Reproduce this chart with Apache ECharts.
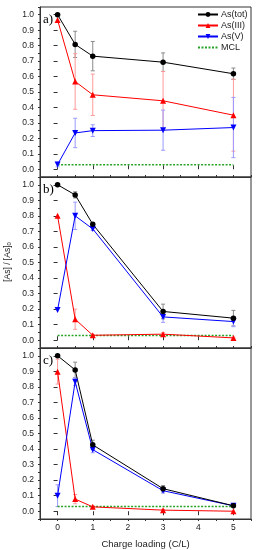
<!DOCTYPE html>
<html><head><meta charset="utf-8">
<script src="https://cdn.jsdelivr.net/npm/echarts@6/dist/echarts.min.js"></script>
<style>html,body{margin:0;padding:0;background:#fff}#c{width:258px;height:550px}</style>
</head><body><div id="c"></div>
<script>
// ---- data ----
const xValues = [0, 0.5, 1, 3, 5];
const xTickValues = [0, 1, 2, 3, 4, 5];
const yTickValues = [0.0, 0.1, 0.2, 0.3, 0.4, 0.5, 0.6, 0.7, 0.8, 0.9, 1.0];
const seriesNames = ['As(tot)', 'As(III)', 'As(V)', 'MCL'];
const panelLabels = ['a)', 'b)', 'c)'];

const aTot = [1.0, 0.808, 0.732, 0.693, 0.618];
const aTotErr = [0, 0.085, 0.095, 0.06, 0.037];
const aIII = [0.966, 0.568, 0.482, 0.443, 0.35];
const aIIIErr = [0, 0.18, 0.134, 0.19, 0.233];
const aV = [0.031, 0.235, 0.25, 0.253, 0.27];
const aVErr = [0.015, 0.095, 0.038, 0.13, 0.195];

const bTot = [1.0, 0.935, 0.746, 0.185, 0.142];
const bTotErr = [0, 0.02, 0.01, 0.047, 0.05];
const bIII = [0.80, 0.135, 0.032, 0.039, 0.015];
const bIIIErr = [0, 0.065, 0.005, 0.01, 0.005];
const bV = [0.195, 0.80, 0.716, 0.15, 0.12];
const bVErr = [0, 0.088, 0.01, 0.035, 0.033];

const cTot = [1.0, 0.909, 0.427, 0.145, 0.035];
const cTotErr = [0, 0.05, 0.03, 0.02, 0.005];
const cIII = [0.898, 0.078, 0.028, 0.007, 0.0];
const cIIIErr = [0.08, 0.03, 0.005, 0.005, 0];
const cV = [0.10, 0.833, 0.396, 0.132, 0.035];
const cVErr = [0.07, 0.025, 0.02, 0.015, 0.005];

const mclX = [0, 5];
const mclValue = 0.03;

// ---- layout ----
const FONT = 'Liberation Sans, Arial, sans-serif';
const grids = [
  {left: 40, right: 7, top: 7, height: 170},
  {left: 40, right: 7, top: 177, height: 171},
  {left: 40, right: 7, top: 348, height: 172}
];
const colors = {tot: '#000000', iii: '#ff0000', v: '#0000ff', mcl: '#27a327'};
const errColors = {tot: '#8a8a8a', iii: '#ff9a9a', v: '#9a9aff'};
const panels = [
  {tot: aTot, totE: aTotErr, iii: aIII, iiiE: aIIIErr, v: aV, vE: aVErr},
  {tot: bTot, totE: bTotErr, iii: bIII, iiiE: bIIIErr, v: bV, vE: bVErr},
  {tot: cTot, totE: cTotErr, iii: cIII, iiiE: cIIIErr, v: cV, vE: cVErr}
];

const axisCol = '#333';
const xAxis = [], yAxis = [], series = [], graphic = [];

grids.forEach((g, gi) => {
  const isBottom = gi === 2;
  xAxis.push({
    gridIndex: gi, type: 'value', min: -0.5, max: 5.5, interval: 0.5,
    axisLine: {show: true, onZero: false, lineStyle: {color: axisCol, width: 1}},
    axisTick: {show: true, inside: !isBottom, length: 2, lineStyle: {color: axisCol}},
    axisLabel: {show: isBottom, margin: 4, fontSize: 8.5, fontFamily: FONT, color: '#222',
      formatter: v => (xTickValues.some(t => Math.abs(t - v) < 1e-6) ? String(Math.round(v)) : '')},
    splitLine: {show: false},
    name: isBottom ? 'Charge loading (C/L)' : '',
    nameLocation: 'middle', nameGap: 20,
    nameTextStyle: {fontSize: 9.5, fontFamily: FONT, color: '#222'}
  });
  xAxis.push({
    gridIndex: gi, type: 'value', min: -0.5, max: 5.5, interval: 0.5, position: 'bottom',
    axisLine: {show: false},
    axisTick: {show: true, inside: !isBottom, length: 4, customValues: xTickValues, lineStyle: {color: axisCol}},
    axisLabel: {show: false}, splitLine: {show: false}
  });
  yAxis.push({
    gridIndex: gi, type: 'value', min: -0.05, max: 1.05, interval: 0.05,
    axisLine: {show: true, onZero: false, lineStyle: {color: axisCol, width: 1}},
    axisTick: {show: true, inside: false, length: 2, lineStyle: {color: axisCol}},
    axisLabel: {show: true, margin: 6, fontSize: 8.5, fontFamily: FONT, color: '#222',
      formatter: v => (yTickValues.some(t => Math.abs(t - v) < 1e-6) ? v.toFixed(1) : '')},
    splitLine: {show: false}
  });
  yAxis.push({
    gridIndex: gi, type: 'value', min: -0.05, max: 1.05, interval: 0.05, position: 'left',
    axisLine: {show: false},
    axisTick: {show: true, inside: false, length: 4, customValues: yTickValues, lineStyle: {color: axisCol}},
    axisLabel: {show: false}, splitLine: {show: false}
  });
});

function errSeries(gi, vals, errs, color) {
  return {
    type: 'custom', xAxisIndex: gi * 2, yAxisIndex: gi * 2, z: 1, silent: true,
    data: xValues.map((x, i) => [x, vals[i], errs[i]]),
    encode: {x: 0, y: 1},
    renderItem: (params, api) => {
      const x = api.value(0), y = api.value(1), e = api.value(2);
      if (!e) return null;
      const top = api.coord([x, y + e]);
      const bot = api.coord([x, y - e]);
      const w = 2;
      const st = {stroke: color, lineWidth: 1};
      return {type: 'group', children: [
        {type: 'line', shape: {x1: top[0], y1: top[1], x2: bot[0], y2: bot[1]}, style: st},
        {type: 'line', shape: {x1: top[0] - w, y1: top[1], x2: top[0] + w, y2: top[1]}, style: st},
        {type: 'line', shape: {x1: bot[0] - w, y1: bot[1], x2: bot[0] + w, y2: bot[1]}, style: st}
      ]};
    }
  };
}

function lineSeries(gi, name, vals, color, symbol, size, rot) {
  return {
    type: 'line', name: name, xAxisIndex: gi * 2, yAxisIndex: gi * 2, z: 3,
    data: xValues.map((x, i) => [x, vals[i]]),
    symbol: symbol, symbolSize: size, symbolRotate: rot || 0, showSymbol: true,
    lineStyle: {color: color, width: 1}, itemStyle: {color: color},
    emphasis: {disabled: true}, animation: false
  };
}

panels.forEach((p, gi) => {
  series.push(errSeries(gi, p.tot, p.totE, errColors.tot));
  series.push(errSeries(gi, p.iii, p.iiiE, errColors.iii));
  series.push(errSeries(gi, p.v, p.vE, errColors.v));
  series.push({
    type: 'line', name: 'MCL', xAxisIndex: gi * 2, yAxisIndex: gi * 2, z: 2,
    data: mclX.map(x => [x, mclValue]), symbol: 'none', showSymbol: false,
    lineStyle: {color: colors.mcl, width: 1.5, type: [2, 1.5]}, itemStyle: {color: colors.mcl},
    animation: false
  });
  series.push(lineSeries(gi, 'As(III)', p.iii, colors.iii, 'triangle', 6, 0));
  series.push(lineSeries(gi, 'As(V)', p.v, colors.v, 'triangle', 6, 180));
  series.push(lineSeries(gi, 'As(tot)', p.tot, colors.tot, 'circle', 5.5, 0));
  graphic.push({
    type: 'text', left: 43, top: grids[gi].top + 6,
    style: {text: panelLabels[gi], font: '13px "Liberation Serif", "Times New Roman", serif', fill: '#000'}
  });
});

graphic.push({
  type: 'text', x: 7.5, y: 262, rotation: Math.PI / 2,
  style: {
    text: '{m|[As] / [As]}{s|0}',
    align: 'center', verticalAlign: 'middle',
    rich: {
      m: {fontSize: 8.5, fontFamily: FONT, fill: '#222', color: '#222'},
      s: {fontSize: 6, fontFamily: FONT, fill: '#222', color: '#222', verticalAlign: 'bottom', padding: [4, 0, 0, 0]}
    }
  }
});

const legendData = seriesNames.map(n => (n === 'MCL' ? {name: n, itemStyle: {opacity: 0}} : {name: n}));

const chart = echarts.init(document.getElementById('c'), null, {renderer: 'canvas'});
chart.setOption({
  animation: false,
  backgroundColor: '#fff',
  grid: grids.map(g => Object.assign({show: true, borderColor: axisCol, borderWidth: 1, backgroundColor: 'transparent'}, g)),
  xAxis: xAxis, yAxis: yAxis, series: series, graphic: graphic,
  legend: {
    data: legendData, orient: 'vertical', left: 197, top: 10, padding: 0,
    itemWidth: 20, itemHeight: 6, itemGap: 2, selectedMode: false,
    textStyle: {fontSize: 9, fontFamily: FONT, color: '#222', padding: [0, 0, 0, -2], lineHeight: 8}
  }
});
</script></body></html>
